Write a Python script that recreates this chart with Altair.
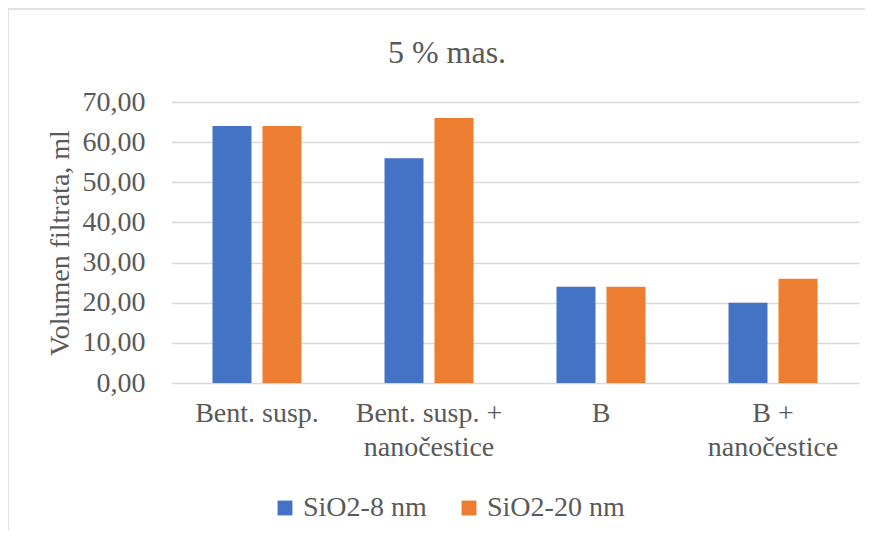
import altair as alt
import pandas as pd

categories = ["Bent. susp.", "Bent. susp. + nanočestice", "B", "B + nanočestice"]
series = ["SiO2-8 nm", "SiO2-20 nm"]
sio2_8 = [64.0, 56.0, 24.0, 20.0]
sio2_20 = [64.0, 66.0, 24.0, 26.0]
colors = ["#4472C4", "#ED7D31"]

rows = []
for c, a, b in zip(categories, sio2_8, sio2_20):
    rows.append({"cat": c, "series": series[0], "val": a})
    rows.append({"cat": c, "series": series[1], "val": b})
df = pd.DataFrame(rows)

FONT = "Liberation Serif"
TXT = "#595959"

label_expr = ("indexof(datum.label, '+') > 0 ? "
              "[slice(datum.label, 0, indexof(datum.label, '+') + 1), "
              "trim(slice(datum.label, indexof(datum.label, '+') + 1))] : datum.label")

bars = alt.Chart(df).mark_bar().encode(
    x=alt.X("cat:N", sort=categories,
            scale=alt.Scale(paddingInner=0, paddingOuter=0),
            axis=alt.Axis(title=None, labelAngle=0, ticks=False, domain=False,
                          labelFont=FONT, labelFontSize=28, labelColor=TXT,
                          labelPadding=16, labelLineHeight=34, labelExpr=label_expr,
                          labelLimit=400)),
    xOffset=alt.XOffset("series:N", sort=series,
                        scale=alt.Scale(paddingInner=0.22, paddingOuter=0.83)),
    y=alt.Y("val:Q", scale=alt.Scale(domain=[0, 70]),
            axis=alt.Axis(title="Volumen filtrata, ml", values=[0, 10, 20, 30, 40, 50, 60, 70],
                          labelExpr="replace(format(datum.value, '.2f'), '.', ',')",
                          ticks=False, domain=False, grid=True, gridColor="#d9d9d9",
                          gridWidth=1.3, labelFont=FONT, labelFontSize=28,
                          labelColor=TXT, labelPadding=26, titleFont=FONT,
                          titleFontSize=28, titleColor=TXT, titleFontWeight="normal",
                          titlePadding=8)),
    color=alt.Color("series:N", sort=series,
                    scale=alt.Scale(domain=series, range=colors),
                    legend=alt.Legend(title=None, orient="none", direction="horizontal",
                                      legendX=100, legendY=392, symbolType="square",
                                      symbolSize=220, symbolStrokeWidth=0,
                                      labelFont=FONT, labelFontSize=28, labelColor=TXT,
                                      columnPadding=28, labelOffset=4, labelLimit=300)),
)

border = alt.Chart(pd.DataFrame({"a": [0]})).mark_rect(
    fillOpacity=0, stroke="#d9d9d9", strokeWidth=1.5
).encode(
    x=alt.value(-163), x2=alt.value(1200), y=alt.value(-93), y2=alt.value(900)
)

chart = alt.layer(border, bars).properties(
    width=688, height=281,
    title=alt.TitleParams("5 % mas.", font=FONT, fontSize=32, color=TXT,
                          fontWeight="normal", anchor="middle", dx=-68, offset=30, dy=92),
    autosize=alt.AutoSizeParams(type="none"),
    padding={"left": 163, "top": 94, "right": 6, "bottom": 148},
).configure_view(stroke=None)

chart.save("out.html", embed_options={"renderer": "svg", "actions": False})
